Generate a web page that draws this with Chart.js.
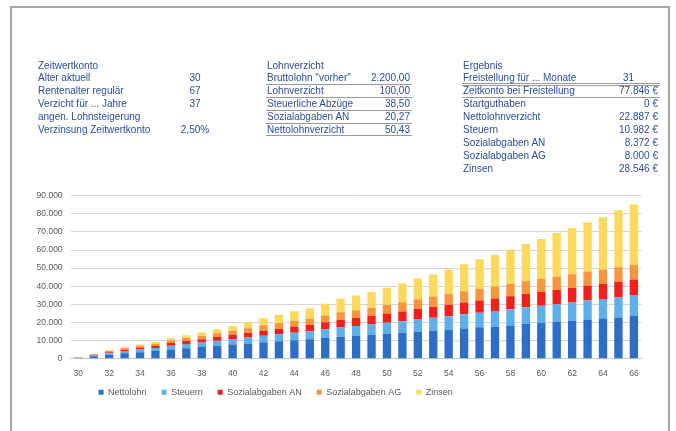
<!DOCTYPE html>
<html>
<head>
<meta charset="utf-8">
<script src="https://cdn.jsdelivr.net/npm/chart.js@4.4.1/dist/chart.umd.min.js"></script>
<style>
  html, body { margin: 0; padding: 0; background: #fff; }
  #page { position: relative; width: 676px; height: 431px; overflow: hidden; font-family: "Liberation Sans", Arial, sans-serif; }
  #frame { position: absolute; left: 10px; top: 6px; width: 656px; height: 440px; border: 2px solid #a8a8a8; border-bottom: none; }
  #chart { position: absolute; left: 0; top: 0; }
  .cell { position: absolute; height: 13px; line-height: 13px; font-size: 10px; color: #2b4c9e; white-space: nowrap; }
  .line { position: absolute; height: 0; border-top: 1px solid #9a9a9a; }
</style>
</head>
<body>
<div id="page">
  <div id="frame"></div>
  <canvas id="chart" width="676" height="431"></canvas>
  <div id="tables"></div>
</div>
<script>
// ---- Kopfbereich (Tabellen) ----
const zeitwertLabels = ['Zeitwertkonto', 'Alter aktuell', 'Rentenalter regulär', 'Verzicht für ... Jahre', 'angen. Lohnsteigerung', 'Verzinsung Zeitwertkonto'];
const zeitwertValues = ['', '30', '67', '37', '', '2,50%'];

const lohnLabels = ['Lohnverzicht', 'Bruttolohn "vorher"', 'Lohnverzicht', 'Steuerliche Abzüge', 'Sozialabgaben AN', 'Nettolohnverzicht'];
const lohnValues = ['', '2.200,00', '100,00', '38,50', '20,27', '50,43'];

const ergebnisLabels = ['Ergebnis', 'Freistellung für ... Monate', 'Zeitkonto bei Freistellung', 'Startguthaben', 'Nettolohnverzicht', 'Steuern', 'Sozialabgaben AN', 'Sozialabgaben AG', 'Zinsen'];
const ergebnisValues = ['', '31', '77.846 €', '0 €', '22.887 €', '10.982 €', '8.372 €', '8.000 €', '28.546 €'];

// ---- Diagrammdaten ----
const ages = ['30', '31', '32', '33', '34', '35', '36', '37', '38', '39', '40', '41', '42', '43', '44', '45', '46', '47', '48',
  '49', '50', '51', '52', '53', '54', '55', '56', '57', '58', '59', '60', '61', '62', '63', '64', '65', '66'];
const nettolohn = [400, 1300, 2100, 3000, 3600, 4200, 5100, 5800, 6400, 7100, 7800, 8400, 9100, 9600, 10200, 10700, 11400, 12000, 12500,
  13100, 13800, 14300, 14900, 15400, 16000, 16700, 17300, 17800, 18400, 19100, 19700, 20300, 20900, 21700, 22200, 22800, 23700];
const steuern = [150, 500, 900, 1200, 1500, 1700, 2000, 2300, 2500, 2800, 3100, 3300, 3600, 3900, 4100, 4400, 4800, 5200, 5500,
  5800, 6100, 6400, 6800, 7200, 7500, 7800, 8100, 8500, 8900, 9200, 9500, 9800, 10100, 10400, 10700, 11000, 11200];
const sozialAN = [100, 350, 600, 800, 1000, 1200, 1500, 1700, 1900, 2100, 2300, 2500, 2800, 3000, 3300, 3500, 3900, 4300, 4500,
  4800, 5100, 5400, 5700, 6000, 6300, 6500, 6800, 7000, 7200, 7400, 7600, 7800, 8000, 8300, 8500, 8700, 8800];
const sozialAG = [100, 350, 600, 800, 1000, 1200, 1500, 1700, 1800, 2100, 2300, 2600, 3000, 3200, 3400, 3500, 3700, 4100, 4300,
  4500, 4800, 5100, 5400, 5700, 6000, 6200, 6400, 6600, 6800, 7000, 7200, 7400, 7600, 7800, 7900, 8000, 8100];
const zinsen = [0, 100, 300, 500, 700, 900, 1200, 1500, 1800, 2200, 2700, 3200, 3900, 4600, 5200, 5800, 6500, 7500, 8100,
  8600, 9400, 10300, 11500, 12200, 13500, 14900, 16300, 17400, 18800, 20600, 22100, 24100, 25600, 27200, 28800, 31400, 33400];
const yTicks = [0, 10000, 20000, 30000, 40000, 50000, 60000, 70000, 80000, 90000];

// ---- Tabellen aufbauen ----
const tables = document.getElementById('tables');
const ROW0 = 58.5, ROWH = 12.9;

function addCell(text, x, row, align) {
  const d = document.createElement('div');
  d.className = 'cell';
  d.textContent = text;
  d.style.top = (ROW0 + row * ROWH) + 'px';
  if (align === 'right') {
    d.style.right = (676 - x) + 'px';
  } else if (align === 'center') {
    d.style.left = (x - 30) + 'px';
    d.style.width = '60px';
    d.style.textAlign = 'center';
  } else {
    d.style.left = x + 'px';
  }
  tables.appendChild(d);
}

function addLine(x1, x2, y) {
  const l = document.createElement('div');
  l.className = 'line';
  l.style.left = x1 + 'px';
  l.style.width = (x2 - x1) + 'px';
  l.style.top = y + 'px';
  tables.appendChild(l);
}

zeitwertLabels.forEach((t, i) => addCell(t, 38, i));
zeitwertValues.forEach((t, i) => { if (t) addCell(t, 195, i, 'center'); });

lohnLabels.forEach((t, i) => addCell(t, 267, i));
lohnValues.forEach((t, i) => { if (t) addCell(t, 410, i, 'right'); });
for (let r = 1; r <= 5; r++) addLine(266, 412, ROW0 + (r + 1) * ROWH - 0.5);

ergebnisLabels.forEach((t, i) => addCell(t, 463, i));
ergebnisValues.forEach((t, i) => { if (t) addCell(t, i === 1 ? 634 : 658, i, 'right'); });
addLine(462, 660, ROW0 + 2 * ROWH - 1.5);
addLine(462, 660, ROW0 + 2 * ROWH + 0.5);
addLine(462, 660, ROW0 + 3 * ROWH - 0.5);

// ---- Diagramm ----
// Legende sitzt im Original etwas rechts und dichter unter der Achse
const legendShift = {
  id: 'legendShift',
  afterLayout(chart) {
    chart.legend.left += 13;
    chart.legend.right += 13;
    chart.legend.top -= 6;
    chart.legend.bottom -= 6;
  }
};

const axisFont = { family: '"Liberation Sans", Arial, sans-serif', size: 8.5 };

new Chart(document.getElementById('chart'), {
  type: 'bar',
  data: {
    labels: ages,
    datasets: [
      { label: 'Nettolohn', data: nettolohn, backgroundColor: '#2e6ec6' },
      { label: 'Steuern', data: steuern, backgroundColor: '#5eb0ea' },
      { label: 'Sozialabgaben AN', data: sozialAN, backgroundColor: '#f0201c' },
      { label: 'Sozialabgaben AG', data: sozialAG, backgroundColor: '#f7963c' },
      { label: 'Zinsen', data: zinsen, backgroundColor: '#fdd95e' }
    ]
  },
  options: {
    responsive: false,
    animation: false,
    layout: { padding: { left: 30.6, right: 34.4, top: 195.7, bottom: 18.3 } },
    datasets: { bar: { categoryPercentage: 0.54, barPercentage: 1 } },
    plugins: {
      legend: {
        position: 'bottom',
        align: 'start',
        fullSize: false,
        labels: { boxWidth: 5, boxHeight: 5, padding: 15, color: '#595959', font: { family: axisFont.family, size: 9 } }
      },
      tooltip: { enabled: false }
    },
    scales: {
      x: {
        stacked: true,
        grid: { display: false, drawTicks: false },
        border: { color: '#c8c8c8' },
        ticks: {
          autoSkip: false, maxRotation: 0, padding: 10, color: '#595959', font: axisFont,
          callback(value, index) { return index % 2 === 0 ? ages[index] : ''; }
        },
        afterFit(scale) { scale.height = 20; }
      },
      y: {
        stacked: true,
        min: 0,
        max: 90000,
        afterBuildTicks(scale) { scale.ticks = yTicks.map(v => ({ value: v })); },
        grid: { color: '#d6d6d6', drawTicks: false },
        border: { display: false },
        ticks: {
          padding: 8, color: '#595959', font: axisFont,
          callback(value) { return value.toLocaleString('de-DE'); }
        },
        afterFit(scale) { scale.width = 40; }
      }
    }
  },
  plugins: [legendShift]
});
</script>
</body>
</html>
